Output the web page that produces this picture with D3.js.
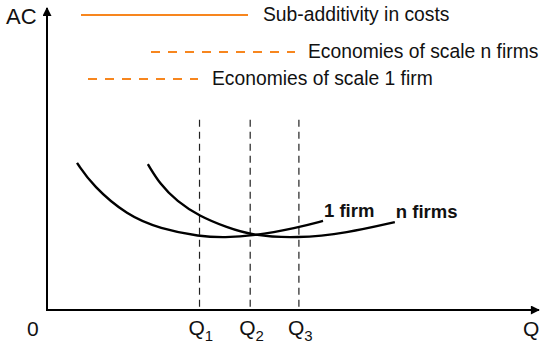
<!DOCTYPE html>
<html>
<head>
<meta charset="utf-8">
<script src="https://cdn.jsdelivr.net/npm/d3@7"></script>
<style>
  body { margin: 0; background: #fff; }
  svg { font-family: "Liberation Sans", Arial, sans-serif; }
</style>
</head>
<body>
<script>
const width = 550;
const height = 347;

// average cost curves (Q, AC) in chart units
const oneFirm = [
  [6.1, 48.7], [9.35, 41.0], [16.3, 31.3], [23.0, 26.9], [31.1, 24.3],
  [36.2, 24.0], [41.7, 24.5], [50.8, 27.2], [56.1, 29.5]
];
const nFirms = [
  [20.5, 48.3], [23.0, 41.6], [26.4, 36.0], [30.9, 31.1], [36.6, 27.3],
  [41.7, 24.7], [50.8, 23.7], [61.0, 25.5], [70.7, 29.1]
];
const qMarks = [
  { q: 31, sub: "1" },
  { q: 41.3, sub: "2" },
  { q: 51.2, sub: "3" }
];
const qMarkTop = 63;
const legendItems = [
  { label: "Sub-additivity in costs", dashed: false },
  { label: "Economies of scale n firms", dashed: true },
  { label: "Economies of scale 1 firm", dashed: true }
];
const orange = "#f7861e";

const x = d3.scaleLinear().domain([0, 100]).range([47, 539]);
const y = d3.scaleLinear().domain([0, 100]).range([310, 8]);

const svg = d3
  .select("body")
  .append("svg")
  .attr("width", width)
  .attr("height", height);

svg
  .append("defs")
  .append("marker")
  .attr("id", "arrow")
  .attr("viewBox", "0 0 10 10")
  .attr("refX", 9)
  .attr("refY", 5)
  .attr("markerWidth", 5)
  .attr("markerHeight", 4.5)
  .attr("markerUnits", "strokeWidth")
  .attr("orient", "auto")
  .append("path")
  .attr("d", "M0,0 L10,5 L0,10 Z")
  .attr("fill", "#000");

// dashed Q guides
svg
  .selectAll(".guide")
  .data(qMarks)
  .join("line")
  .attr("class", "guide")
  .attr("x1", d => x(d.q))
  .attr("x2", d => x(d.q))
  .attr("y1", y(qMarkTop))
  .attr("y2", y(0))
  .attr("stroke", "#222")
  .attr("stroke-width", 1.2)
  .attr("stroke-dasharray", "7,5");

// axes
svg
  .append("line")
  .attr("x1", x(0))
  .attr("y1", y(0))
  .attr("x2", x(0))
  .attr("y2", y(100))
  .attr("stroke", "#000")
  .attr("stroke-width", 2)
  .attr("marker-end", "url(#arrow)");
svg
  .append("line")
  .attr("x1", x(0) - 1)
  .attr("y1", y(0))
  .attr("x2", x(100))
  .attr("y2", y(0))
  .attr("stroke", "#000")
  .attr("stroke-width", 2)
  .attr("marker-end", "url(#arrow)");

// cost curves
const line = d3
  .line()
  .x(d => x(d[0]))
  .y(d => y(d[1]))
  .curve(d3.curveBasis);

svg
  .selectAll(".curve")
  .data([oneFirm, nFirms])
  .join("path")
  .attr("class", "curve")
  .attr("d", line)
  .attr("fill", "none")
  .attr("stroke", "#000")
  .attr("stroke-width", 2.4);

svg
  .selectAll(".curveLabel")
  .data([
    { text: "1 firm", p: oneFirm[oneFirm.length - 1] },
    { text: "n firms", p: nFirms[nFirms.length - 1] }
  ])
  .join("text")
  .attr("class", "curveLabel")
  .attr("x", d => x(d.p[0]) + 1)
  .attr("y", d => y(d.p[1]) - 4)
  .attr("font-size", 18.5)
  .attr("font-weight", "bold")
  .attr("fill", "#111")
  .text(d => d.text);

// axis labels
svg
  .append("text")
  .attr("x", 6)
  .attr("y", 24)
  .attr("font-size", 22)
  .attr("fill", "#111")
  .text("AC");
svg
  .append("text")
  .attr("x", 27)
  .attr("y", 336)
  .attr("font-size", 21)
  .attr("fill", "#111")
  .text("0");
svg
  .append("text")
  .attr("x", 523)
  .attr("y", 336)
  .attr("font-size", 21)
  .attr("fill", "#111")
  .text("Q");

const qLabel = svg
  .selectAll(".qLabel")
  .data(qMarks)
  .join("text")
  .attr("class", "qLabel")
  .attr("x", d => x(d.q) - 11)
  .attr("y", 335)
  .attr("font-size", 21)
  .attr("fill", "#111");
qLabel.append("tspan").text("Q");
qLabel
  .append("tspan")
  .attr("dy", 6)
  .attr("font-size", 15)
  .text(d => d.sub);

// legend
const legendLayout = [
  { x1: 81, x2: 248, tx: 263, y: 15 },
  { x1: 151, x2: 295, tx: 308, y: 52 },
  { x1: 88, x2: 198, tx: 212, y: 79 }
];
const legend = svg
  .selectAll(".legend")
  .data(legendItems)
  .join("g")
  .attr("class", "legend");
legend
  .append("line")
  .attr("x1", (d, i) => legendLayout[i].x1)
  .attr("x2", (d, i) => legendLayout[i].x2)
  .attr("y1", (d, i) => legendLayout[i].y)
  .attr("y2", (d, i) => legendLayout[i].y)
  .attr("stroke", orange)
  .attr("stroke-width", 2.2)
  .attr("stroke-dasharray", d => (d.dashed ? "9,8" : null));
legend
  .append("text")
  .attr("x", (d, i) => legendLayout[i].tx)
  .attr("y", (d, i) => legendLayout[i].y + 6)
  .attr("font-size", 19.3)
  .attr("fill", "#111")
  .text(d => d.label);
</script>
</body>
</html>
